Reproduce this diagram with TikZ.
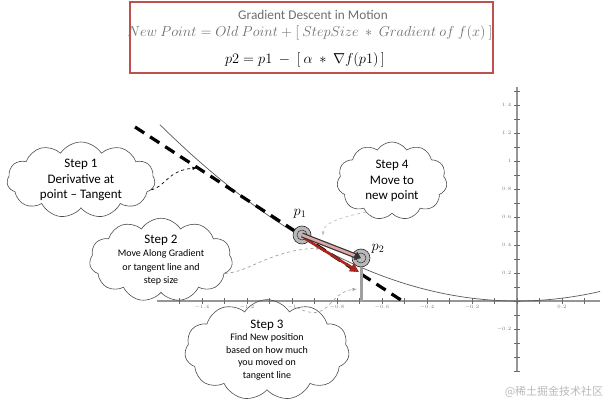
\documentclass[tikz,border=0pt]{standalone}
\usepackage[no-math]{fontspec}
\setmainfont{Carlito}
\newfontfamily\cjkfont{Noto Sans CJK SC}
\usetikzlibrary{shapes.symbols,arrows.meta,positioning,calc}
\definecolor{boxred}{RGB}{192,80,77}
\definecolor{steppink}{RGB}{224,165,165}
\definecolor{movered}{RGB}{168,38,28}
\definecolor{axisgray}{RGB}{150,150,150}
\definecolor{textgray}{RGB}{110,110,110}

\begin{document}
\begin{tikzpicture}[
        x=1pt, y=-1pt,
        stepcloud/.style={draw=black!70, line width=0.6pt, cloud, cloud puffs=11, cloud puff arc=115, aspect=2, inner sep=-2pt, align=center, font=\fontsize{13}{15.5}\selectfont},
        hint/.style={-{Latex[length=4.5pt,width=3.5pt]}, dashed, line width=0.7pt},
        ball/.style={circle, minimum size=18pt, inner sep=0pt, fill=gray!55, draw=gray!30!black, line width=0.6pt,
            path picture={\draw[gray!35!black, line width=0.5pt] (path picture bounding box.center) circle (5pt);}},
        ticklabel/.style={font=\fontsize{5}{6}\selectfont, text=axisgray!80!black, inner sep=1pt}
    ]
        \useasboundingbox (0,0) rectangle (609,403);

        % header
        \node[draw=boxred, line width=1.2pt, minimum width=363pt, minimum height=71pt] (header) at (311.5,37.5) {};
        \node[text=textgray, font=\fontsize{13.3}{15}\selectfont] (title) at (313,15) {Gradient Descent in Motion};
        \node[text=textgray, font=\fontsize{14.4}{16}\selectfont] (rule) at (310,33)
            {$New\ Point = Old\ Point + [\ StepSize\ \ast\ Gradient\ of\ f(x)\ ]$};
        \node[font=\fontsize{14.6}{16}\selectfont] (update) at (305,60)
            {$p2 = p1\ -\ [\ \alpha\ \ast\ \nabla f(p1)\,]$};

        % axes and curve
        \begin{scope}[shift={(517pt,-301pt)}, x=225pt, y=140pt]
            \draw[axisgray, line width=1.2pt] (-1.6,0) -- (0.37,0);
            \draw[axisgray, line width=1.2pt] (0,-0.5) -- (0,1.53);
            \foreach \t in {-15,...,3}
                \draw[axisgray!70!black, line width=0.6pt] (\t/10,0.02) -- (\t/10,-0.02);
            \foreach \t in {-5,...,15}
                \draw[axisgray!70!black, line width=0.6pt] (-0.013,\t/10) -- (0.013,\t/10);
            \foreach \v/\l in {-1.4/-1.4,-1.2/-1.2,-1/-1,-0.8/-0.8,-0.6/-0.6,-0.4/-0.4,-0.2/-0.2,0.2/0.2}
                \node[ticklabel, anchor=north] at (\v,-0.02) {$\l$};
            \foreach \v in {0.2,0.4,0.6,0.8,1,1.2,1.4,-0.2}
                \node[ticklabel, anchor=east] at (-0.02,\v) {$\v$};
            \draw[gray!70!black, line width=0.7pt, domain=-1.587:0.37, samples=80] plot (\x,{\x*\x/2});
        \end{scope}

        % tangent
        \coordinate (tanA) at (135,127);
        \coordinate (tanB) at (404,302);
        \draw[line width=3.2pt, dash pattern=on 11pt off 7pt] (tanA) -- (tanB);

        % clouds
        \node[stepcloud, minimum width=148pt, minimum height=76pt] (s1) at (81,180) {Step 1\\Derivative at\\point -- Tangent};
        \node[stepcloud, minimum width=143pt, minimum height=75pt] (s2) at (161,260)
            {Step 2\\[-2pt]{\fontsize{10}{14}\selectfont Move Along Gradient}\\[-2pt]{\fontsize{10}{14}\selectfont or tangent line and}\\[-2pt]{\fontsize{10}{14}\selectfont step size}};
        \node[stepcloud, minimum width=159pt, minimum height=80pt] (s3) at (267,350)
            {Step 3\\[-3pt]{\fontsize{10}{13}\selectfont Find New position}\\[-3pt]{\fontsize{10}{13}\selectfont based on how much}\\[-3pt]{\fontsize{10}{13}\selectfont you moved on}\\[-3pt]{\fontsize{10}{13}\selectfont tangent line}};
        \node[stepcloud, minimum width=110pt, minimum height=78pt] (s4) at (392,181) {Step 4\\Move to\\new point};

        % points
        \node[ball] (p1) at (302,235) {};
        \node[ball] (p2) at (361,258) {};
        \node[font=\fontsize{14}{16}\selectfont] (p1lab) at (300,214) {$p_1$};
        \node[font=\fontsize{14}{16}\selectfont] (p2lab) at (378,249) {$p_2$};

        \coordinate (t1) at (197,168);
        \coordinate (t2) at (321,248);
        \coordinate (t3) at (357,289);
        \coordinate (t4) at (323,236);
        \coordinate (foot) at (361,267);
        \coordinate (axisfoot) at (361,302);
        \coordinate (tip) at (359,272);
        \coordinate (start) at (304,238);

        \draw[hint, black] (s1.-8) .. controls (165,187) and (168,170) .. (t1);
        \draw[hint, gray!75] (s2.-12) .. controls (250,272) and (270,250) .. (t2);
        \draw[hint, gray!70] (s3.55) .. controls (330,325) and (328,292) .. (t3);
        \draw[hint, gray!50] (s4.-130) .. controls (335,218) and (323,225) .. (t4);

        % moves
        \draw[line width=3pt, gray!75] (foot) -- (axisfoot);
        \draw[movered, line width=2.6pt, -{Triangle[length=9pt,width=9pt]}] (start) -- (tip);
        \draw[black!80, line width=5pt, -{Triangle[length=6pt,width=9pt]}] (p1.center) -- (p2.center);
        \draw[steppink, line width=2.6pt, shorten >=7pt] (p1.center) -- (p2.center);

        \node[text=gray!55, font=\fontsize{11}{13}\cjkfont] (mark) at (554,392) {@稀土掘金技术社区};
    \end{tikzpicture}
\end{document}
